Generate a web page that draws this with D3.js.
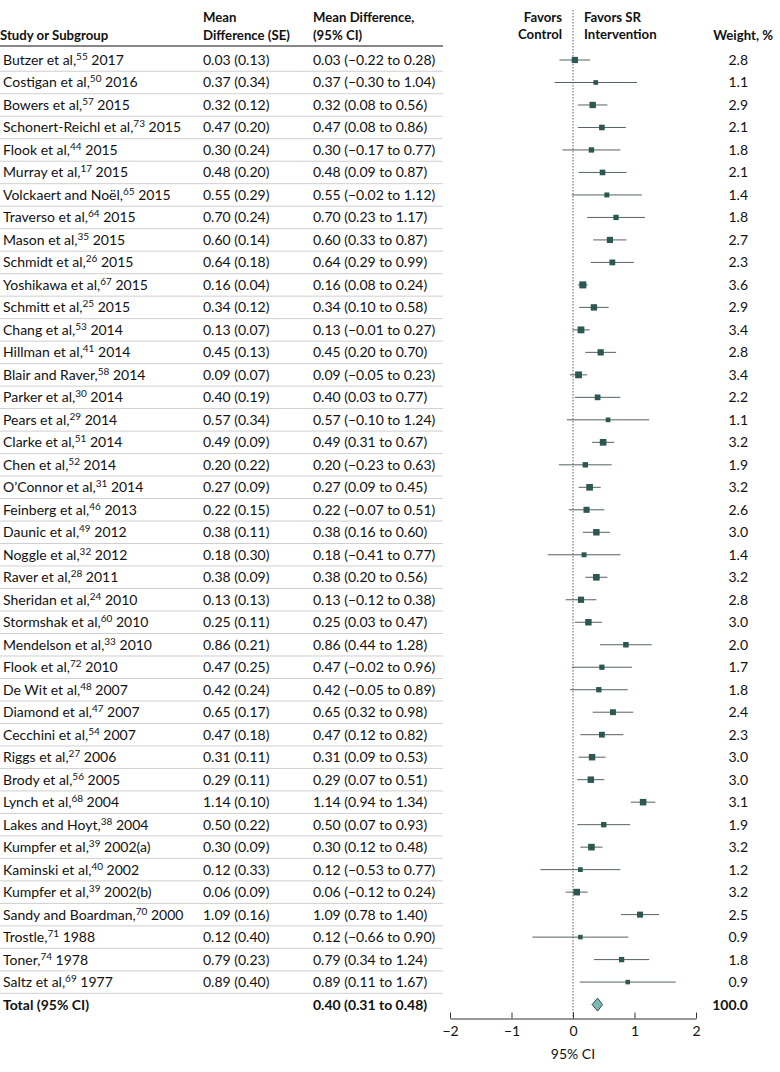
<!DOCTYPE html>
<html>
<head>
<meta charset="utf-8">
<script src="https://cdn.jsdelivr.net/npm/d3@7"></script>
<style>
  body { margin: 0; background: #fff; }
  svg { font-family: Lato, "Open Sans", sans-serif; }
</style>
</head>
<body>
<div id="chart"></div>
<script>
// study names, reference numbers and years
const studies = ["Butzer et al,", "Costigan et al,", "Bowers et al,", "Schonert-Reichl et al,", "Flook et al,",
  "Murray et al,", "Volckaert and Noël,", "Traverso et al,", "Mason et al,", "Schmidt et al,", "Yoshikawa et al,",
  "Schmitt et al,", "Chang et al,", "Hillman et al,", "Blair and Raver,", "Parker et al,", "Pears et al,",
  "Clarke et al,", "Chen et al,", "O’Connor et al,", "Feinberg et al,", "Daunic et al,", "Noggle et al,",
  "Raver et al,", "Sheridan et al,", "Stormshak et al,", "Mendelson et al,", "Flook et al,", "De Wit et al,",
  "Diamond et al,", "Cecchini et al,", "Riggs et al,", "Brody et al,", "Lynch et al,", "Lakes and Hoyt,",
  "Kumpfer et al,", "Kaminski et al,", "Kumpfer et al,", "Sandy and Boardman,", "Trostle,", "Toner,", "Saltz et al,"];
const refs = ["55", "50", "57", "73", "44", "17", "65", "64", "35", "26", "67", "25", "53", "41", "58", "30", "29",
  "51", "52", "31", "46", "49", "32", "28", "24", "60", "33", "72", "48", "47", "54", "27", "56", "68", "38",
  "39", "40", "39", "70", "71", "74", "69"];
const years = ["2017", "2016", "2015", "2015", "2015", "2015", "2015", "2015", "2015", "2015", "2015", "2015",
  "2014", "2014", "2014", "2014", "2014", "2014", "2014", "2014", "2013", "2012", "2012", "2011", "2010", "2010",
  "2010", "2010", "2007", "2007", "2007", "2006", "2005", "2004", "2004", "2002(a)", "2002", "2002(b)", "2000",
  "1988", "1978", "1977"];

// mean difference, SE, 95% CI, weight
const md = [0.03, 0.37, 0.32, 0.47, 0.30, 0.48, 0.55, 0.70, 0.60, 0.64, 0.16, 0.34, 0.13, 0.45, 0.09, 0.40, 0.57,
  0.49, 0.20, 0.27, 0.22, 0.38, 0.18, 0.38, 0.13, 0.25, 0.86, 0.47, 0.42, 0.65, 0.47, 0.31, 0.29, 1.14, 0.50,
  0.30, 0.12, 0.06, 1.09, 0.12, 0.79, 0.89];
const se = [0.13, 0.34, 0.12, 0.20, 0.24, 0.20, 0.29, 0.24, 0.14, 0.18, 0.04, 0.12, 0.07, 0.13, 0.07, 0.19, 0.34,
  0.09, 0.22, 0.09, 0.15, 0.11, 0.30, 0.09, 0.13, 0.11, 0.21, 0.25, 0.24, 0.17, 0.18, 0.11, 0.11, 0.10, 0.22,
  0.09, 0.33, 0.09, 0.16, 0.40, 0.23, 0.40];
const lower = [-0.22, -0.30, 0.08, 0.08, -0.17, 0.09, -0.02, 0.23, 0.33, 0.29, 0.08, 0.10, -0.01, 0.20, -0.05,
  0.03, -0.10, 0.31, -0.23, 0.09, -0.07, 0.16, -0.41, 0.20, -0.12, 0.03, 0.44, -0.02, -0.05, 0.32, 0.12, 0.09,
  0.07, 0.94, 0.07, 0.12, -0.53, -0.12, 0.78, -0.66, 0.34, 0.11];
const upper = [0.28, 1.04, 0.56, 0.86, 0.77, 0.87, 1.12, 1.17, 0.87, 0.99, 0.24, 0.58, 0.27, 0.70, 0.23, 0.77,
  1.24, 0.67, 0.63, 0.45, 0.51, 0.60, 0.77, 0.56, 0.38, 0.47, 1.28, 0.96, 0.89, 0.98, 0.82, 0.53, 0.51, 1.34,
  0.93, 0.48, 0.77, 0.24, 1.40, 0.90, 1.24, 1.67];
const weights = [2.8, 1.1, 2.9, 2.1, 1.8, 2.1, 1.4, 1.8, 2.7, 2.3, 3.6, 2.9, 3.4, 2.8, 3.4, 2.2, 1.1, 3.2, 1.9,
  3.2, 2.6, 3.0, 1.4, 3.2, 2.8, 3.0, 2.0, 1.7, 1.8, 2.4, 2.3, 3.0, 3.0, 3.1, 1.9, 3.2, 1.2, 3.2, 2.5, 0.9, 1.8, 0.9];

// pooled estimate
const total = { md: 0.40, lower: 0.31, upper: 0.48, weight: 100.0 };
const xTicks = [-2, -1, 0, 1, 2];

const width = 780, height = 1072;
const rowTop = 60, rowStep = 22.49;
const tableRight = 443;
const col = { study: 3, se: 203, ci: 313, weight: 748 };

const fmt = d3.format(".2f");
const minus = s => s.replace(/-/g, "−");
const ciText = (m, l, u) => minus(`${fmt(m)} (${fmt(l)} to ${fmt(u)})`);

const rows = studies.map((s, i) => ({
  name: s, ref: refs[i], year: years[i], md: md[i], se: se[i],
  lower: lower[i], upper: upper[i], weight: weights[i]
}));

const svg = d3.select("#chart").append("svg")
  .attr("width", width)
  .attr("height", height);

const y = d3.scaleLinear()
  .domain([0, rows.length - 1])
  .range([rowTop, rowTop + rowStep * (rows.length - 1)]);
const yTotal = y(rows.length);

const x = d3.scaleLinear().domain([-2, 2]).range([450, 696]);
const size = d3.scaleLinear().domain([0.9, 3.6]).range([4.5, 7]);

// header
const head = svg.append("g").attr("font-weight", "bold").attr("font-size", 13.2).attr("fill", "#111");
head.append("text").attr("x", 0).attr("y", 40).text("Study or Subgroup");
head.append("text").attr("x", col.se).attr("y", 22).text("Mean");
head.append("text").attr("x", col.se).attr("y", 40).text("Difference (SE)");
head.append("text").attr("x", col.ci).attr("y", 22).text("Mean Difference,");
head.append("text").attr("x", col.ci).attr("y", 40).text("(95% CI)");
head.append("text").attr("x", 562).attr("y", 22).attr("text-anchor", "end").text("Favors");
head.append("text").attr("x", 562).attr("y", 39).attr("text-anchor", "end").text("Control");
head.append("text").attr("x", 584).attr("y", 22).text("Favors SR");
head.append("text").attr("x", 584).attr("y", 39).text("Intervention");
head.append("text").attr("x", 773).attr("y", 40).attr("text-anchor", "end").text("Weight, %");

svg.append("line")
  .attr("x1", 0).attr("x2", tableRight)
  .attr("y1", 46).attr("y2", 46)
  .attr("stroke", "#111").attr("stroke-width", 1.2);

// row separators
svg.selectAll(".sep")
  .data(rows)
  .join("line")
  .attr("class", "sep")
  .attr("x1", 0).attr("x2", tableRight)
  .attr("y1", (d, i) => y(i) + rowStep / 2)
  .attr("y2", (d, i) => y(i) + rowStep / 2)
  .attr("stroke", "#cfcfcf").attr("stroke-width", 1);

// table text
const tbl = svg.append("g").attr("font-size", 14).attr("fill", "#111");
const label = tbl.selectAll(".name")
  .data(rows)
  .join("text")
  .attr("class", "name")
  .attr("x", col.study)
  .attr("y", (d, i) => y(i) + 5);
label.append("tspan").text(d => d.name);
label.append("tspan").attr("font-size", 10).attr("dy", -5).text(d => d.ref);
label.append("tspan").attr("dy", 5).text(d => " " + d.year);

tbl.selectAll(".se")
  .data(rows)
  .join("text")
  .attr("class", "se")
  .attr("x", col.se)
  .attr("y", (d, i) => y(i) + 5)
  .text(d => `${fmt(d.md)} (${fmt(d.se)})`);

tbl.selectAll(".ci")
  .data(rows)
  .join("text")
  .attr("class", "ci")
  .attr("x", col.ci)
  .attr("y", (d, i) => y(i) + 5)
  .text(d => ciText(d.md, d.lower, d.upper));

tbl.selectAll(".w")
  .data(rows)
  .join("text")
  .attr("class", "w")
  .attr("x", col.weight)
  .attr("text-anchor", "end")
  .attr("y", (d, i) => y(i) + 5)
  .text(d => d.weight.toFixed(1));

// total row
const tot = svg.append("g").attr("font-size", 14).attr("font-weight", "bold").attr("fill", "#111");
tot.append("text").attr("x", col.study).attr("y", yTotal + 5).text("Total (95% CI)");
tot.append("text").attr("x", col.ci).attr("y", yTotal + 5).text(ciText(total.md, total.lower, total.upper));
tot.append("text").attr("x", col.weight).attr("y", yTotal + 5).attr("text-anchor", "end").text(total.weight.toFixed(1));

// axis
const axisY = 1018.5;
const axis = svg.append("g")
  .attr("transform", `translate(0,${axisY})`)
  .call(d3.axisBottom(x).tickValues(xTicks).tickSize(6).tickSizeOuter(0).tickFormat(d => minus(String(d))));
axis.select(".domain").attr("stroke", "#333");
axis.selectAll(".tick line").attr("stroke", "#333").attr("transform", "translate(0,-6)");
axis.selectAll(".tick text")
  .attr("font-family", "Lato, sans-serif")
  .attr("font-size", 14)
  .attr("fill", "#111")
  .attr("y", 8);
svg.append("text")
  .attr("x", x(0)).attr("y", 1059)
  .attr("text-anchor", "middle")
  .attr("font-size", 14).attr("fill", "#111")
  .text("95% CI");

// null line
svg.append("line")
  .attr("x1", x(0)).attr("x2", x(0))
  .attr("y1", 10).attr("y2", axisY)
  .attr("stroke", "#333").attr("stroke-width", 0.8)
  .attr("stroke-dasharray", "1.5,1.5");

// CI lines and squares
const plot = svg.append("g");
plot.selectAll(".ciline")
  .data(rows)
  .join("line")
  .attr("class", "ciline")
  .attr("x1", d => x(d.lower)).attr("x2", d => x(d.upper))
  .attr("y1", (d, i) => y(i)).attr("y2", (d, i) => y(i))
  .attr("stroke", "#56625f").attr("stroke-width", 1);

plot.selectAll(".box")
  .data(rows)
  .join("rect")
  .attr("class", "box")
  .attr("x", d => x(d.md) - size(d.weight) / 2)
  .attr("y", (d, i) => y(i) - size(d.weight) / 2)
  .attr("width", d => size(d.weight))
  .attr("height", d => size(d.weight))
  .attr("fill", "#2c5752");

// pooled diamond
const dh = 6.5;
plot.append("path")
  .attr("d", `M${x(total.lower)},${yTotal} L${x(total.md)},${yTotal - dh} L${x(total.upper)},${yTotal} L${x(total.md)},${yTotal + dh} Z`)
  .attr("fill", "#7fb8b6")
  .attr("stroke", "#2f4f4c")
  .attr("stroke-width", 1);
</script>
</body>
</html>
